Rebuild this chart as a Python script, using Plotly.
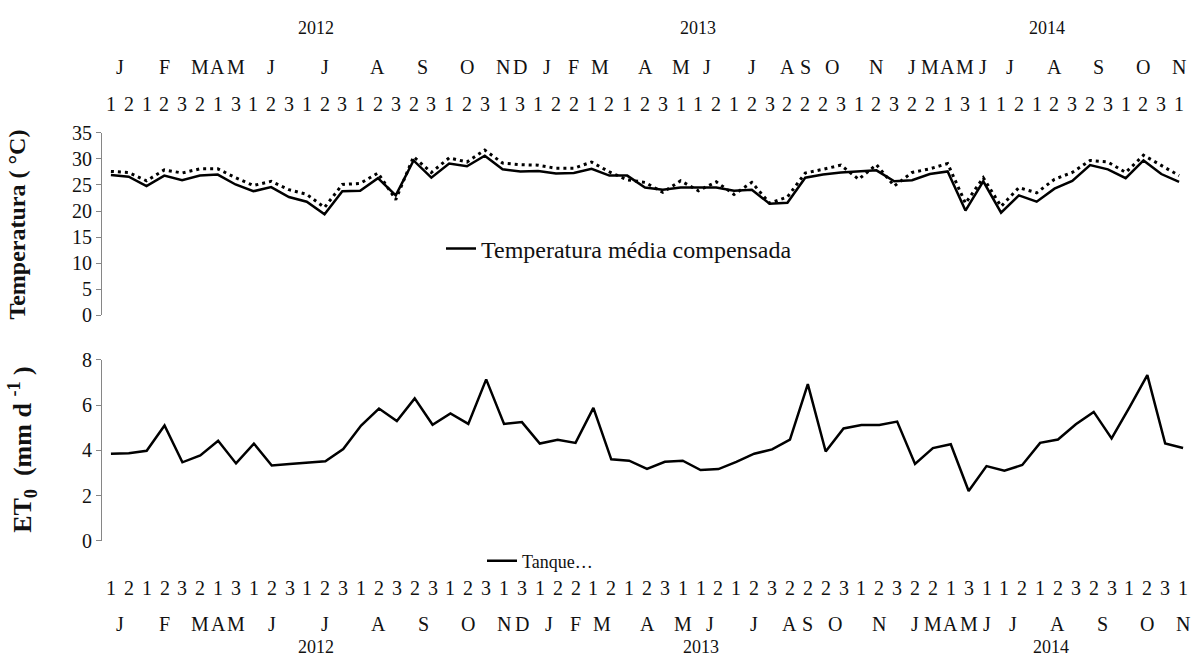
import plotly.graph_objects as go

# ---------------- data ----------------
decendio = [1,2,1,2,3,2,1,3,1,2,3,1,2,3,1,2,3,2,3,1,2,3,1,3,1,2,2,1,2,1,2,3,1,1,2,1,2,3,2,2,2,3,1,2,3,2,2,1,3,1,1,2,1,2,3,2,3,1,2,3,1]
mes = [1,1,2,2,2,3,4,5,6,6,6,7,7,7,8,8,8,9,9,10,10,10,11,12,
       1,1,2,3,3,4,4,4,5,6,6,7,7,7,8,9,10,10,11,11,11,
       1,3,4,5,6,7,7,8,8,8,9,9,10,10,10,11]
ano = [2012]*24 + [2013]*21 + [2014]*16
mes_letra = {1:"J",2:"F",3:"M",4:"A",5:"M",6:"J",7:"J",8:"A",9:"S",10:"O",11:"N",12:"D"}
ano_rotulos = ["2012", "2013", "2014"]
ano_centro = [11.5, 33.0, 52.6]

temp_media = [26.9,26.6,24.8,26.8,25.9,26.8,27.0,25.1,23.8,24.6,
              22.7,21.8,19.4,23.8,23.9,26.3,23.0,29.7,26.4,29.1,
              28.6,30.6,28.0,27.6,27.7,27.2,27.3,28.1,26.8,26.8,
              24.5,24.1,24.5,24.5,24.5,23.9,24.1,21.4,21.6,26.4,
              27.0,27.4,27.6,27.8,25.7,25.9,27.1,27.6,20.1,25.7,
              19.7,23.0,21.8,24.3,25.8,28.8,28.0,26.3,29.7,27.1,
              25.6]
temp_2 = [27.6,27.4,25.8,27.9,27.3,28.1,28.1,26.4,24.9,25.7,
          24.1,23.2,20.7,25.1,25.3,27.3,22.2,30.4,27.4,30.2,
          29.4,31.7,29.2,28.9,28.8,28.2,28.2,29.4,27.5,26.0,
          25.5,23.6,25.8,23.9,25.6,23.2,25.5,21.5,22.7,27.3,
          28.0,28.8,26.1,28.9,24.8,27.4,28.1,29.1,21.5,26.4,
          20.9,24.5,23.5,26.1,27.4,29.7,29.4,27.4,30.7,28.8,
          26.8]
et0_tanque = [3.85,3.87,3.98,5.1,3.47,3.77,4.42,3.42,4.3,3.33,
              3.4,3.45,3.52,4.06,5.1,5.85,5.3,6.3,5.13,5.63,
              5.17,7.14,5.17,5.25,4.3,4.47,4.33,5.88,3.6,3.54,
              3.18,3.49,3.54,3.13,3.17,3.49,3.85,4.04,4.47,6.93,
              3.95,4.97,5.12,5.12,5.27,3.4,4.1,4.27,2.2,3.3,
              3.1,3.35,4.33,4.48,5.15,5.7,4.53,5.9,7.33,4.3,
              4.1]

W, H = 1198, 659
FONT = "Liberation Serif"
TXT = "#111111"
AX = "#868686"
idx = list(range(len(decendio)))

def py(y):
    return 1 - y / H

fig = go.Figure()
fig.add_trace(go.Scatter(x=idx, y=temp_media, mode="lines", name="Temperatura média compensada",
                         line=dict(color="black", width=2.5), xaxis="x", yaxis="y", legend="legend"))
fig.add_trace(go.Scatter(x=idx, y=temp_2, mode="lines", showlegend=False,
                         line=dict(color="black", width=3, dash="3px,4px"), xaxis="x", yaxis="y"))
fig.add_trace(go.Scatter(x=idx, y=et0_tanque, mode="lines", name="Tanque…",
                         line=dict(color="black", width=2.5), xaxis="x2", yaxis="y2", legend="legend2"))

# month group centres
def groups(keys):
    out = []
    start = 0
    for i in range(1, len(keys) + 1):
        if i == len(keys) or keys[i] != keys[start]:
            out.append((keys[start], (start + i - 1) / 2))
            start = i
    return out

mgroups = groups(list(zip(ano, mes)))

ann = []
rows = (("x", 96, 58, 18), ("x2", 597, 634, 658))
for xref, yn, ym, yy in rows:
    for i, d in zip(idx, decendio):
        ann.append(dict(x=i, y=py(yn), xref=xref, yref="paper", text=str(d), showarrow=False,
                        font=dict(size=20, color=TXT, family=FONT), xanchor="center", yanchor="middle"))
    for (a, m), c in mgroups:
        ann.append(dict(x=c, y=py(ym), xref=xref, yref="paper", text=mes_letra[m], showarrow=False,
                        font=dict(size=20, color=TXT, family=FONT), xanchor="center", yanchor="middle"))
    for t, c in zip(ano_rotulos, ano_centro):
        ann.append(dict(x=c, y=py(yy), xref=xref, yref="paper", text=t, showarrow=False,
                        font=dict(size=18, color=TXT, family=FONT), xanchor="center", yanchor="middle"))

ann.append(dict(x=17 / W, y=py(221), xref="paper", yref="paper", text="<b>Temperatura ( °C)</b>",
                textangle=-90, showarrow=False, xanchor="center", yanchor="middle",
                font=dict(size=24, color=TXT, family=FONT)))
ann.append(dict(x=22 / W, y=py(454), xref="paper", yref="paper",
                text="<b>ET<sub>0</sub>\u00a0\u00a0(mm\u00a0d\u00a0<sup>-1</sup>\u00a0)</b>",
                textangle=-90, showarrow=False, xanchor="center", yanchor="middle",
                font=dict(size=26, color=TXT, family=FONT)))

xcommon = dict(range=[-0.5, 60.5], showline=False, showticklabels=False, ticks="",
               showgrid=False, zeroline=False, fixedrange=True)
ycommon = dict(showline=True, linecolor=AX, linewidth=1, ticks="outside", ticklen=5, tickcolor=AX,
               showgrid=False, zeroline=False, fixedrange=True,
               tickfont=dict(size=20, color=TXT, family=FONT))

fig.update_layout(
    width=W, height=H, margin=dict(l=0, r=0, t=0, b=0),
    font=dict(family=FONT, color=TXT),
    paper_bgcolor="white", plot_bgcolor="white",
    xaxis=dict(domain=[102 / W, 1188 / W], anchor="y", **xcommon),
    yaxis=dict(domain=[py(315), py(126)], range=[0, 35], dtick=5, anchor="x", **ycommon),
    xaxis2=dict(domain=[102 / W, 1192 / W], anchor="y2", **xcommon),
    yaxis2=dict(domain=[py(548), py(361)], range=[0, 8], dtick=2, anchor="x2", **ycommon),
    annotations=ann,
    legend=dict(x=441 / W, y=py(246), xanchor="left", yanchor="middle", bgcolor="rgba(0,0,0,0)",
                font=dict(size=24, color=TXT, family=FONT)),
    legend2=dict(x=482 / W, y=py(569), xanchor="left", yanchor="middle", bgcolor="rgba(0,0,0,0)",
                 font=dict(size=18, color=TXT, family=FONT)),
)

fig.write_html("out.html", config={"displayModeBar": False},
               post_script="document.body.style.margin='0px';")
